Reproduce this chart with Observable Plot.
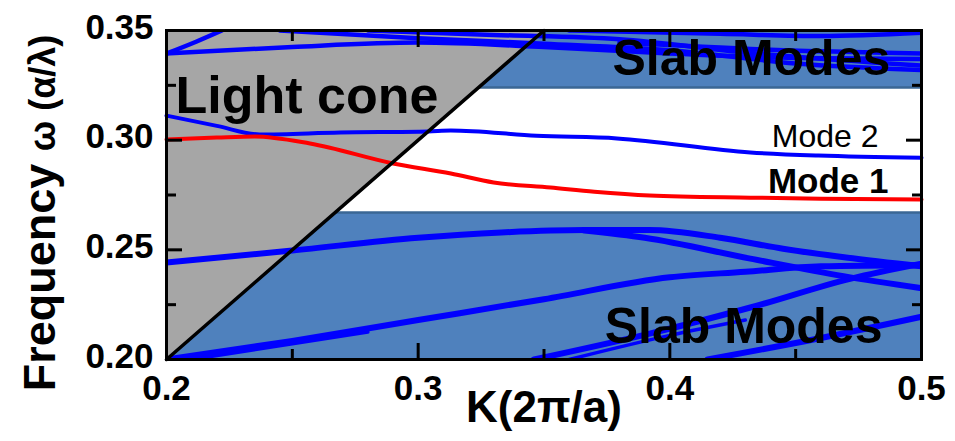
<!DOCTYPE html>
<html><head><meta charset="utf-8">
<script src="https://cdn.jsdelivr.net/npm/d3@7"></script>
<script src="https://cdn.jsdelivr.net/npm/@observablehq/plot@0.6"></script>
<style>body{margin:0;background:#fff}</style>
</head><body><div id="chart"></div>
<script>
// ---- axis ticks ----
const xTicks = [0.2, 0.3, 0.4, 0.5];
const xMinor = [0.25, 0.35, 0.45];
const yTicks = [0.20, 0.25, 0.30, 0.35];
const yMinor = [0.225, 0.275, 0.325];

// ---- regions ----
const lightConeK = [0.2, 0.35];          // light line omega = k
const bandLow = [0.2, 0.267];            // lower slab-mode continuum
const bandHigh = [0.324, 0.35];          // upper slab-mode continuum

// ---- guided modes [k, omega] ----
const mode1 = [[0.2,0.3003],[0.22,0.3012],[0.235,0.3017],[0.257,0.2985],[0.29,0.2894],[0.313,0.2848],[0.33,0.2807],[0.3526,0.2784],[0.37,0.2765],[0.392,0.2748],[0.432,0.2738],[0.46,0.2733],[0.5,0.2730]];
const mode2 = [[0.2,0.3112],[0.22,0.3065],[0.237,0.3026],[0.269,0.3035],[0.304,0.3040],[0.313,0.3044],[0.347,0.3020],[0.379,0.3008],[0.432,0.2944],[0.459,0.2930],[0.5,0.2920]];

// ---- slab-mode bands [k, omega] ----
const top1 = [[0.2,0.3395],[0.212,0.3450],[0.222,0.3500]];
const top2 = [[0.2,0.3395],[0.25,0.3425],[0.30,0.3445],[0.35,0.3425],[0.40,0.3395],[0.45,0.3375],[0.5,0.3370]];
const top3 = [[0.245,0.3500],[0.30,0.3465],[0.35,0.3440],[0.40,0.3410],[0.45,0.3350],[0.5,0.3320]];
const top4 = [[0.28,0.3500],[0.33,0.3480],[0.38,0.3460],[0.43,0.3400],[0.5,0.3340]];
const top5 = [[0.36,0.3500],[0.42,0.3485],[0.46,0.3475],[0.5,0.3490]];
const top6 = [[0.38,0.3445],[0.44,0.3412],[0.5,0.3395]];
const low1 = [[0.2,0.2442],[0.25,0.2497],[0.30,0.2555],[0.333,0.2579],[0.366,0.2590],[0.392,0.2590],[0.42,0.2555],[0.445,0.2505],[0.47,0.2465],[0.5,0.2425]];
const low1b = [[0.366,0.2588],[0.39,0.2555],[0.432,0.2460],[0.469,0.2380],[0.5,0.2325]];
const low2 = [[0.2,0.2],[0.25,0.2085],[0.30,0.2180],[0.35,0.2275],[0.40,0.2375],[0.43,0.2400],[0.46,0.2425],[0.5,0.2430]];
const low2b = [[0.21,0.2],[0.25,0.2072],[0.28,0.2125]];
const low3 = [[0.346,0.2],[0.392,0.2118],[0.432,0.2237],[0.472,0.2369],[0.5,0.2437]];
const low3b = [[0.36,0.2],[0.40,0.2110],[0.43,0.2180]];
const low4 = [[0.415,0.2],[0.45,0.2075],[0.5,0.2195]];

const W = 955, H = 441, mL = 166, mR = 34, mT = 30, mB = 82;
const plotW = W - mL - mR, plotH = H - mT - mB;
const FONT = "Arial, 'Liberation Sans', sans-serif";
const px = d => d[0], py = d => d[1];
const bandBlue = "#4f81bd", edge = "#3b6795", lineBlue = "#0000ff";
const [kMin, kMax] = [xTicks[0], xTicks[xTicks.length - 1]];
const [wMin, wMax] = [yTicks[0], yTicks[yTicks.length - 1]];
const noText = () => "";

// inward ticks drawn as axis tick marks with negative tick size (on all four sides)
const inward = [
  Plot.axisX({anchor: "bottom", ticks: xTicks, tickSize: -16, tickFormat: noText, label: null, strokeWidth: 3}),
  Plot.axisX({anchor: "top", ticks: xTicks, tickSize: -16, tickFormat: noText, label: null, strokeWidth: 3}),
  Plot.axisX({anchor: "bottom", ticks: xMinor, tickSize: -10, tickFormat: noText, label: null, strokeWidth: 3}),
  Plot.axisX({anchor: "top", ticks: xMinor, tickSize: -10, tickFormat: noText, label: null, strokeWidth: 3}),
  Plot.axisY({anchor: "left", ticks: yTicks, tickSize: -16, tickFormat: noText, label: null, strokeWidth: 3}),
  Plot.axisY({anchor: "right", ticks: yTicks, tickSize: -16, tickFormat: noText, label: null, strokeWidth: 3}),
  Plot.axisY({anchor: "left", ticks: yMinor, tickSize: -10, tickFormat: noText, label: null, strokeWidth: 3}),
  Plot.axisY({anchor: "right", ticks: yMinor, tickSize: -10, tickFormat: noText, label: null, strokeWidth: 3})
];

const bandLines = [top1, top2, top3, top4, top5, top6].map(a => Plot.line(a, {x: px, y: py, stroke: lineBlue, strokeWidth: 4.5, curve: "monotone-x", clip: true}))
  .concat([low1, low1b, low2, low3, low4].map(a => Plot.line(a, {x: px, y: py, stroke: lineBlue, strokeWidth: 6, curve: "monotone-x", clip: true})))
  .concat([low2b, low3b].map(a => Plot.line(a, {x: px, y: py, stroke: lineBlue, strokeWidth: 3.5, curve: "monotone-x", clip: true})));

const chart = Plot.plot({
  width: W, height: H,
  marginLeft: mL, marginRight: mR, marginTop: mT, marginBottom: mB,
  style: {fontFamily: FONT, fontWeight: "bold", fontSize: "35px", background: "white", color: "black"},
  x: {domain: [kMin, kMax]},
  y: {domain: [wMin, wMax]},
  marks: [
    Plot.areaY(lightConeK, {x: d => d, y1: d => d, y2: bandHigh[1], fill: "#a6a6a6"}),
    Plot.areaY([bandLow[0], bandLow[1], kMax], {x: d => d, y1: bandLow[0], y2: d => Math.min(d, bandLow[1]), fill: bandBlue}),
    Plot.areaY([bandHigh[0], bandHigh[1], kMax], {x: d => d, y1: bandHigh[0], y2: d => Math.min(d, bandHigh[1]), fill: bandBlue}),
    Plot.ruleY([bandLow[1]], {x1: bandLow[1], x2: kMax, stroke: edge, strokeWidth: 2.5}),
    Plot.ruleY([bandHigh[0]], {x1: bandHigh[0], x2: kMax, stroke: edge, strokeWidth: 2.5}),
    ...bandLines,
    Plot.line(mode2, {x: px, y: py, stroke: lineBlue, strokeWidth: 4, curve: "monotone-x"}),
    Plot.line(mode1, {x: px, y: py, stroke: "#ff0000", strokeWidth: 4, curve: "monotone-x"}),
    Plot.line(lightConeK, {x: d => d, y: d => d, stroke: "black", strokeWidth: 3.5}),
    Plot.frame({stroke: "black", strokeWidth: 3}),
    ...inward,
    Plot.axisX({ticks: xTicks, tickSize: 0, tickPadding: 16, tickFormat: d3.format(".1f"), label: null, fontSize: 35}),
    Plot.axisY({ticks: yTicks, tickSize: 0, tickPadding: 13, tickFormat: d3.format(".2f"), label: null, fontSize: 35, dy: -3}),
    // annotations
    Plot.text(["Light cone"], {x: 0.2036, y: 0.3122, text: d => d, textAnchor: "start", lineAnchor: "bottom", fontSize: 52, fontWeight: "bold", fill: "black"}),
    Plot.text(["Slab Modes"], {x: 0.4876, y: 0.3295, text: d => d, textAnchor: "end", lineAnchor: "bottom", fontSize: 50, fontWeight: "bold", fill: "black"}),
    Plot.text(["Slab Modes"], {x: 0.4845, y: 0.2077, text: d => d, textAnchor: "end", lineAnchor: "bottom", fontSize: 50, fontWeight: "bold", fill: "black"}),
    Plot.text(["Mode 2"], {x: 0.4829, y: 0.2971, text: d => d, textAnchor: "end", lineAnchor: "bottom", fontSize: 32, fontWeight: "normal", fill: "black"}),
    Plot.text(["Mode 1"], {x: 0.4869, y: 0.2757, text: d => d, textAnchor: "end", lineAnchor: "bottom", fontSize: 35, fontWeight: "bold", fill: "black"})
  ]
});

const svg = d3.select(chart);
svg.append("text")
  .attr("x", 544).attr("y", 422)
  .attr("text-anchor", "middle")
  .style("font", `bold 44px ${FONT}`)
  .attr("fill", "black")
  .text("K(2π/a)");
const yt = svg.append("text")
  .attr("transform", "translate(55,213) rotate(-90)")
  .attr("text-anchor", "middle")
  .style("font", `bold 45px ${FONT}`)
  .attr("fill", "black");
yt.append("tspan").text("Frequency ");
yt.append("tspan").style("font-size", "36px").text("ω (α/λ)");

document.getElementById("chart").appendChild(chart);
</script>
</body></html>
